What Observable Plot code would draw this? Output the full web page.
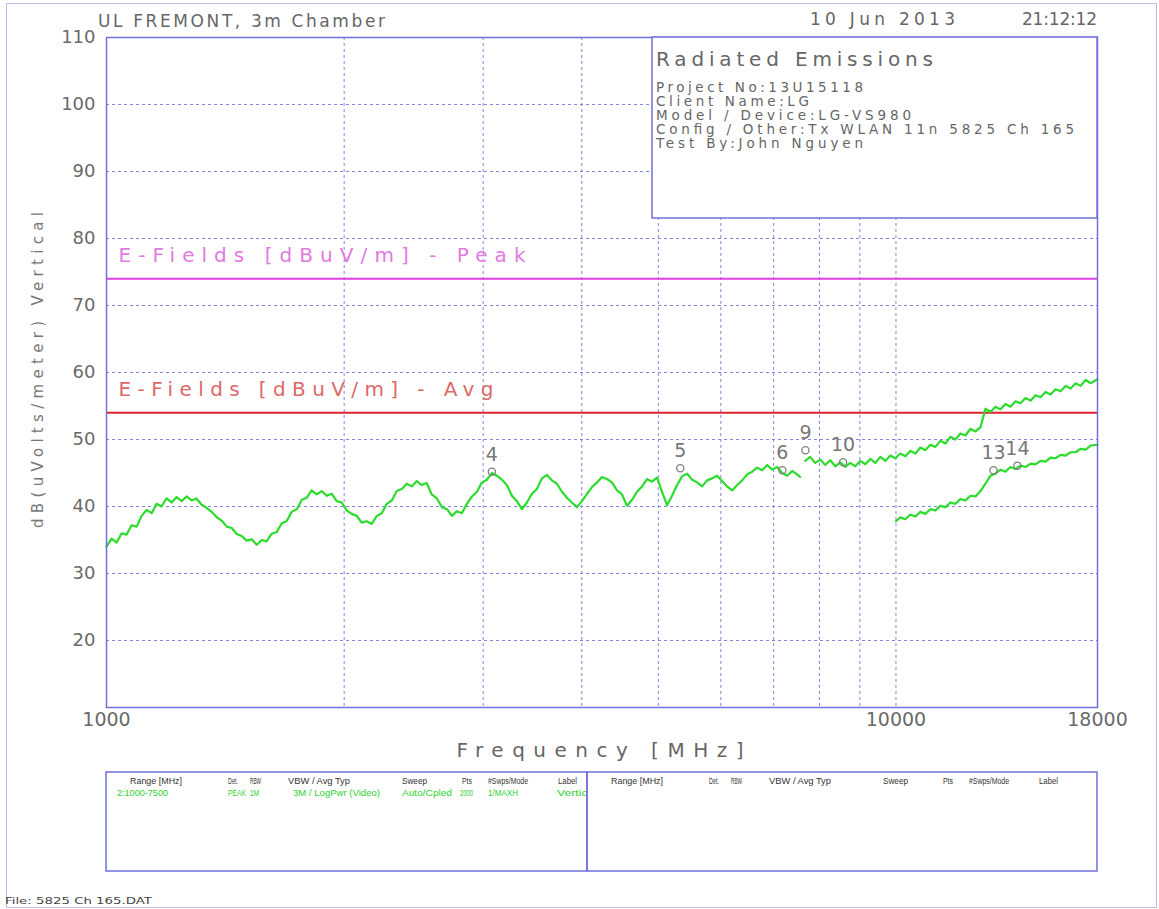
<!DOCTYPE html>
<html><head><meta charset="utf-8">
<script src="https://cdn.jsdelivr.net/npm/d3@7"></script>
<script src="https://cdn.jsdelivr.net/npm/@observablehq/plot@0.6"></script>
<style>
html,body{margin:0;padding:0;background:#fff;}
#chart{position:relative;width:1159px;height:909px;}
</style></head><body><div id="chart"></div>
<script>
// ---------- data ----------
const headerLeft = "UL FREMONT, 3m Chamber";
const headerDate = "10 Jun 2013";
const headerTime = "21:12:12";
const infoTitle = "Radiated Emissions";
const infoLines = ["Project No:13U15118", "Client Name:LG", "Model / Device:LG-VS980",
  "Config / Other:Tx WLAN 11n 5825 Ch 165", "Test By:John Nguyen"];
const yAxisTitle = "dB(uVolts/meter) Vertical";
const xAxisTitle = "Frequency [MHz]";
const fileName = "File: 5825 Ch 165.DAT";
const tableHeader = ["Range [MHz]", "Det.", "RBW", "VBW / Avg Typ", "Sweep", "Pts", "#Swps/Mode", "Label"];
const tableRow = ["2:1000-7500", "PEAK", "1M", "3M / LogPwr (Video)", "Auto/Cpled", "2000", "1/MAXH", "Vertical"];

const yTicks = [20, 30, 40, 50, 60, 70, 80, 90, 100, 110];
const yGrid = [20, 30, 40, 50, 60, 70, 80, 90, 100];
const xTicks = [1000, 10000, 18000];
const xGrid = [2000, 3000, 4000, 5000, 6000, 7000, 8000, 9000, 10000];

const peakLimit = 74, avgLimit = 54;
const peakLabel = "E-Fields [dBuV/m] - Peak";
const avgLabel = "E-Fields [dBuV/m] - Avg";

const seg1Freq = [1000,1015,1030,1045,1060,1076,1092,1108,1124,1141,1157,1174,1191,1209,1227,1245,1263,1282,1300,1319,
 1339,1359,1379,1399,1420,1441,1462,1483,1505,1527,1550,1573,1595,1618,1643,1667,1691,1716,1742,1768,
 1793,1819,1846,1873,1901,1929,1957,1986,2015,2045,2075,2105,2136,2167,2200,2232,2265,2298,2332,2366,
 2401,2436,2472,2508,2545,2582,2621,2660,2699,2739,2778,2819,2861,2903,2946,2989,3033,3078,3122,3168,
 3215,3262,3310,3359,3408,3458,3509,3561,3613,3666,3720,3775,3830,3886,3944,4002,4061,4121,4181,4242,
 4305,4368,4433,4498,4564,4631,4699,4768,4838,4909,4982,5055,5129,5204,5281,5359,5438,5518,5599,5681,
 5765,5850,5936,6023,6112,6202,6293,6386,6479,6574,6671,6769,6869,6970,7072,7176,7282,7389,7497,7560];
const seg1Level = [34.0,35.2,34.6,36.0,35.8,37.2,37.0,38.6,39.5,39.0,
 40.4,40.0,41.2,40.6,41.4,40.8,41.5,40.9,41.2,40.3,
 39.8,39.2,38.4,37.9,37.0,36.8,35.9,35.6,34.9,35.1,
 34.3,35.0,34.8,35.9,36.2,37.5,37.8,39.2,39.6,41.0,
 41.3,42.4,41.8,42.3,41.6,41.9,40.8,40.6,39.4,38.9,
 38.6,37.6,37.8,37.4,38.6,39.0,40.4,40.9,42.3,42.6,
 43.4,43.0,43.8,43.2,43.5,41.8,41.2,39.9,39.6,38.6,
 39.3,39.0,40.4,41.5,42.2,43.6,44.0,45.0,44.6,44.0,
 43.2,41.6,40.8,39.6,40.6,41.9,42.6,44.2,44.7,43.9,
 43.4,42.2,41.3,40.6,39.9,40.8,41.9,42.9,43.6,44.4,
 44.1,43.6,42.4,41.8,40.1,41.0,42.2,43.0,44.1,43.7,
 44.3,42.2,40.2,41.6,43.2,44.5,44.9,44.0,43.6,43.0,
 43.9,44.2,44.6,43.8,43.0,42.4,43.2,43.9,44.8,45.2,
 45.8,45.4,46.2,45.5,45.9,45.0,44.6,45.3,44.8,44.4];

const seg2Freq = [7674,7787,7902,8018,8136,8256,8377,8500,8625,8752,8880,9011,9144,9279,9415,9553,9694,9837,9981,10128,
 10277,10428,10582,10738,10895,11055,11218,11383,11551,11721,11893,12068,12246,12426,12609,12794,12982,13173,13367,13564,
 13763,13965,14171,14379,14591,14806,15024,15245,15469,15697,15928,16162,16400,16641,16886,17134,17387,17642,18000];
const seg2Level = [46.8,47.4,46.5,47.0,46.2,46.9,46.0,46.6,45.9,46.5,
 46.0,46.8,46.3,47.1,46.5,47.4,46.8,47.6,47.2,47.9,
 47.5,48.3,47.9,48.8,48.4,49.2,48.9,49.8,49.4,50.4,
 50.0,50.9,50.6,51.6,51.2,51.8,54.6,54.1,54.9,54.5,
 55.3,54.9,55.7,55.4,56.2,55.8,56.6,56.3,57.1,56.7,
 57.5,57.2,58.0,57.6,58.4,58.0,58.9,58.4,59.0];

const seg3Freq = [10000,10128,10277,10428,10582,10738,10895,11055,11218,11383,11551,11721,11893,12068,12246,12426,12609,12794,12982,13173,
 13367,13564,13763,13965,14171,14379,14591,14806,15024,15245,15469,15697,15928,16162,16400,16641,16886,17134,17387,17642,18000];
const seg3Level = [37.8,38.4,38.1,38.8,38.5,39.2,38.9,39.6,39.4,40.1,
 39.9,40.6,40.4,41.1,40.9,41.6,41.5,42.3,43.4,44.6,
 44.9,45.5,45.2,45.9,45.6,46.1,45.9,46.4,46.3,46.8,
 46.7,47.3,47.2,47.7,47.6,48.1,48.1,48.6,48.5,49.1,49.2];

const markerId = ["4", "5", "6", "9", "10", "13", "14"];
const markerFreq = [3077, 5330, 7180, 7680, 8570, 13290, 14250];
const markerLevel = [45.2, 45.7, 45.4, 48.4, 46.6, 45.4, 46.1];

// ---------- styles ----------
const FONT = "DejaVu Sans";
const FRAME = "#7070da", GRID = "#8484e2", GREEN = "#2cdc2c", TXT = "#6a6a6a";

const trace1 = seg1Freq.map((f, i) => ({f, v: seg1Level[i]}));
const trace2 = seg2Freq.map((f, i) => ({f, v: seg2Level[i]}));
const trace3 = seg3Freq.map((f, i) => ({f, v: seg3Level[i]}));
const markers = markerId.map((id, i) => ({id, f: markerFreq[i], v: markerLevel[i]}));

const svg = Plot.plot({
  width: 1159, height: 909,
  marginLeft: 106, marginRight: 62, marginTop: 37, marginBottom: 202,
  x: {type: "log", domain: [1000, 18000]},
  y: {domain: [10, 110]},
  style: {fontFamily: FONT, background: "#fff", overflow: "visible"},
  marks: [
    Plot.gridY(yGrid, {stroke: GRID, strokeOpacity: 1, strokeDasharray: "3,3"}),
    Plot.gridX(xGrid, {stroke: GRID, strokeOpacity: 1, strokeDasharray: "3,3"}),
    Plot.ruleY([peakLimit], {stroke: "#e03ce0", strokeWidth: 2}),
    Plot.ruleY([avgLimit], {stroke: "#e3202c", strokeWidth: 2}),
    Plot.text([peakLimit], {y: d => d, frameAnchor: "left", dx: 12, dy: -23, text: () => peakLabel,
      textAnchor: "start", fill: "#e27ae2", fontSize: 20}),
    Plot.text([avgLimit], {y: d => d, frameAnchor: "left", dx: 12, dy: -23, text: () => avgLabel,
      textAnchor: "start", fill: "#dc6868", fontSize: 20}),
    Plot.line(trace1, {x: "f", y: "v", stroke: GREEN, strokeWidth: 2.2}),
    Plot.line(trace2, {x: "f", y: "v", stroke: GREEN, strokeWidth: 2.2}),
    Plot.line(trace3, {x: "f", y: "v", stroke: GREEN, strokeWidth: 2.2}),
    Plot.dot(markers, {x: "f", y: "v", r: 3.6, stroke: "#808080", strokeWidth: 1.3}),
    Plot.text(markers, {x: "f", y: "v", text: "id", dy: -17, fill: "#777", fontSize: 19}),
    Plot.axisY(yTicks, {anchor: "left", tickSize: 0, tickPadding: 11, fontSize: 18, label: null, color: TXT}),
    Plot.axisX(xTicks, {anchor: "bottom", tickSize: 0, tickPadding: 5, fontSize: 19, label: null, color: TXT,
      tickFormat: d => String(d)}),
    Plot.frame({stroke: FRAME, strokeWidth: 1.5})
  ]
});
document.getElementById("chart").append(svg);

const root = d3.select(svg);
root.selectAll("text").filter(function() { return this.textContent === peakLabel; })
  .attr("textLength", 407).attr("lengthAdjust", "spacing");
root.selectAll("text").filter(function() { return this.textContent === avgLabel; })
  .attr("textLength", 375).attr("lengthAdjust", "spacing");

// ---------- annotations around the plot ----------
const g = root.append("g").attr("font-family", FONT);
function put(txt, x, y, size, fill, len, anchor = "start", adj = "spacing", parent = g) {
  const t = parent.append("text").attr("x", x).attr("y", y).attr("font-size", size)
    .attr("fill", fill).attr("dominant-baseline", "central").attr("text-anchor", anchor).text(txt);
  if (len) t.attr("textLength", len).attr("lengthAdjust", adj);
  return t;
}
// outer border
g.append("path").attr("d", "M6.5,907.5V3.5H1156.5V907.5H6.5").attr("fill", "none").attr("stroke", "#bcbcec");

// header
put(headerLeft, 98, 21, 17, "#666", 287);
put(headerDate, 810, 19, 17, "#666", 145);
put(headerTime, 1022, 19, 17, "#666", 75);

// y axis title
put(yAxisTitle, 0, 0, 15, "#777", 316, "middle").attr("transform", "translate(38,370) rotate(-90)");
// x axis title
put(xAxisTitle, 600, 750, 20, "#666", 287, "middle");

// info box
g.append("rect").attr("x", 652).attr("y", 37).attr("width", 445).attr("height", 181)
  .attr("fill", "#fff").attr("stroke", FRAME).attr("stroke-width", 1.5);
put(infoTitle, 656, 59, 20, "#666", 277);
const infoLens = [207, 153, 255, 418, 207];
infoLines.forEach((s, i) => put(s, 656, 87 + i * 14, 13.5, "#666", infoLens[i]));

// settings table
g.append("rect").attr("x", 106).attr("y", 772).attr("width", 481).attr("height", 99)
  .attr("fill", "none").attr("stroke", FRAME).attr("stroke-width", 1.5);
g.append("rect").attr("x", 587).attr("y", 772).attr("width", 510).attr("height", 99)
  .attr("fill", "none").attr("stroke", FRAME).attr("stroke-width", 1.5);
root.append("clipPath").attr("id", "tblclip").append("rect").attr("x", 106).attr("y", 772).attr("width", 480).attr("height", 99);
const tfont = "Liberation Sans";
const hx = [130, 228, 250, 288, 402, 462, 488, 558];
const hw = [52, 10, 11, 62, 25, 10, 40, 19];
const rx = [117, 228, 250, 293, 402, 460, 488, 557];
const rw = [51, 18, 9, 87, 50, 13, 30, 40];
const tg = g.append("g").attr("font-family", tfont);
tableHeader.forEach((s, i) => {
  put(s, hx[i], 781, 8.5, "#333", hw[i], "start", "spacingAndGlyphs", tg);
  put(s, hx[i] + 481, 781, 8.5, "#333", hw[i], "start", "spacingAndGlyphs", tg);
});
const rg = tg.append("g").attr("clip-path", "url(#tblclip)");
tableRow.forEach((s, i) => put(s, rx[i], 793, 8.5, "#2ed02e", rw[i], "start", "spacingAndGlyphs", rg));

put(fileName, 5, 901, 9, "#444", 147, "start", "spacingAndGlyphs");
</script></body></html>
